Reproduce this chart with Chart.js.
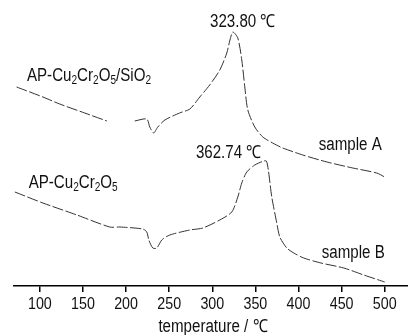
<!DOCTYPE html>
<html>
<head>
<meta charset="utf-8">
<script src="https://cdn.jsdelivr.net/npm/chart.js@4.4.1/dist/chart.umd.min.js"></script>
<style>
  html, body { margin: 0; padding: 0; background: #fff; }
  #wrap { width: 408px; height: 335px; }
</style>
</head>
<body>
<div id="wrap"><canvas id="c" width="408" height="335"></canvas></div>
<script>
// ---- data (temperature in °C, heat flow in arbitrary units) ----
const tempsA = [73, 103.5, 123, 152, 177.7, 194, 210, 224, 227.5, 232, 236.8, 245, 262, 274, 285.5, 297, 308.7, 316.8, 320.5, 323.8, 329.6, 334.2, 337.7, 341.2, 349.3, 358.6, 370, 381.7, 405, 433, 463, 490.7, 500];
const valuesA = [199, 189, 182, 173, 165, null, 165, 167, 159, 153, 159, 166, 173, 177, 189, 201, 216, 233, 246, 254, 248, 226, 199, 176, 159, 149, 143, 138, 131, 124, 118, 113, 109];
const tempsB = [71, 103.5, 143, 181, 193, 219.4, 224, 226.4, 231, 235.7, 241.4, 250.7, 274, 289, 308.7, 322.6, 329.6, 334.2, 340, 349.3, 359.7, 362.74, 365, 369, 374.8, 378.3, 386.4, 394.5, 406, 426, 452.5, 475.7, 500];
const valuesB = [94, 83, 71, 59, 59, 57, 54, 46, 38, 38, 46, 51, 56, 58, 66, 74, 89, 103, 114, 121, 125, 125, 116, 89, 63, 49, 38, 33, 28, 23, 18, 11, 4];
const tickValues = [100, 150, 200, 250, 300, 350, 400, 450, 500];
const xTitle = 'temperature / ℃';

// annotations: segments with optional subscript, anchor in data units
const labels = [
  { x: 85, y: 210, align: 'left', parts: [['AP-Cu'], ['2', 1], ['Cr'], ['2', 1], ['O'], ['5', 1], ['/SiO'], ['2', 1]] },
  { x: 87, y: 103, align: 'left', parts: [['AP-Cu'], ['2', 1], ['Cr'], ['2', 1], ['O'], ['5', 1]] },
  { x: 423.5, y: 141, align: 'left', parts: [['sample A']] },
  { x: 427, y: 33, align: 'left', parts: [['sample B']] },
  { x: 335.4, y: 264, align: 'center', parts: [['323.80 ℃']] },
  { x: 319, y: 133, align: 'center', parts: [['362.74 ℃']] }
];

const FONT = '"Liberation Sans", Arial, sans-serif';
const SX = 0.84;

function measureParts(ctx, parts, size, sub) {
  let w = 0;
  for (const p of parts) { ctx.font = (p[1] ? sub : size) + 'px ' + FONT; w += ctx.measureText(p[0]).width * SX; }
  return w;
}
function drawParts(ctx, parts, x, y, size, sub, align) {
  const w = measureParts(ctx, parts, size, sub);
  let px = align === 'center' ? x - w / 2 : x;
  for (const p of parts) {
    ctx.font = (p[1] ? sub : size) + 'px ' + FONT;
    const pw = ctx.measureText(p[0]).width * SX;
    ctx.save();
    ctx.translate(px, p[1] ? y + 5 : y);
    ctx.scale(SX, 1);
    ctx.fillText(p[0], 0, 0);
    ctx.restore();
    px += pw;
  }
}

const textPlugin = {
  id: 'texts',
  afterDraw(chart) {
    const ctx = chart.ctx, xs = chart.scales.x, ys = chart.scales.y;
    ctx.save();
    ctx.fillStyle = '#111';
    ctx.textBaseline = 'middle';
    ctx.textAlign = 'left';
    for (const l of labels) {
      drawParts(ctx, l.parts, xs.getPixelForValue(l.x), ys.getPixelForValue(l.y), 18, 12, l.align);
    }
    for (const v of tickValues) {
      drawParts(ctx, [[String(v)]], xs.getPixelForValue(v), xs.top + 18, 17, 12, 'center');
    }
    drawParts(ctx, [[xTitle]], (xs.left + xs.right) / 2 + 2, xs.top + 41, 18, 12, 'center');
    ctx.restore();
  }
};

const toPts = (xs, ys) => xs.map((x, i) => ({ x: x, y: ys[i] }));

new Chart(document.getElementById('c'), {
  type: 'line',
  data: {
    datasets: [
      { label: 'AP-Cu2Cr2O5/SiO2', data: toPts(tempsA, valuesA), borderColor: '#333', borderWidth: 1, borderDash: [11, 2.5], pointRadius: 0, tension: 0.25, spanGaps: false, fill: false },
      { label: 'AP-Cu2Cr2O5', data: toPts(tempsB, valuesB), borderColor: '#333', borderWidth: 1, borderDash: [11, 2.5], pointRadius: 0, tension: 0.25, fill: false }
    ]
  },
  options: {
    responsive: false,
    animation: false,
    devicePixelRatio: 1,
    layout: { padding: { left: 14, right: 0, top: 0, bottom: 0 } },
    plugins: { legend: { display: false }, tooltip: { enabled: false } },
    scales: {
      x: {
        type: 'linear', min: 70, max: 527,
        afterBuildTicks: s => { s.ticks = tickValues.map(v => ({ value: v })); },
        afterFit: s => { s.height = 49; },
        border: { display: true, color: '#000', width: 1.5 },
        grid: { display: true, drawOnChartArea: false, drawTicks: true, tickLength: 6, color: '#000', lineWidth: 1.5 },
        ticks: { display: false },
        title: { display: false }
      },
      y: { type: 'linear', min: 0, max: 286, display: false }
    }
  },
  plugins: [textPlugin]
});
</script>
</body>
</html>
